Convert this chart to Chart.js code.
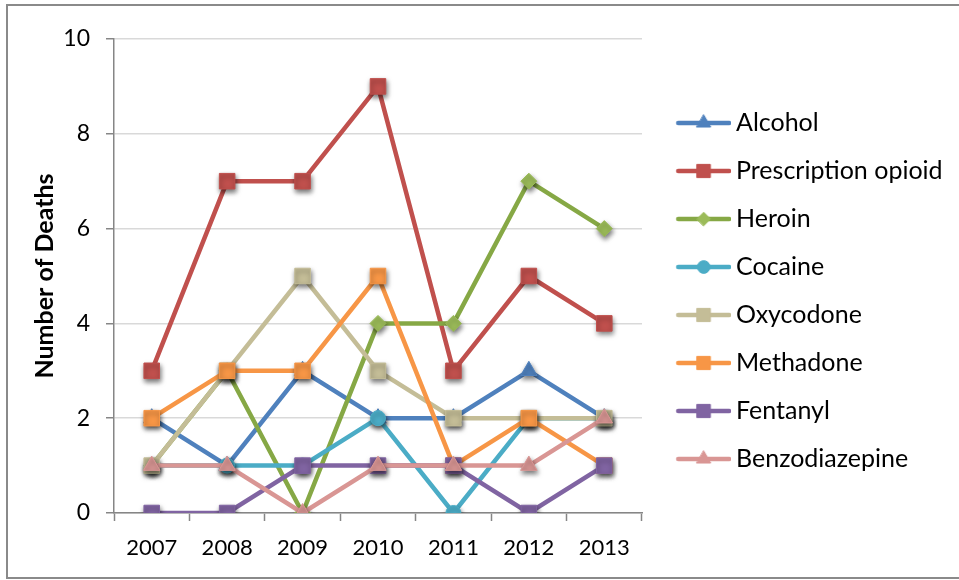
<!DOCTYPE html>
<html>
<head>
<meta charset="utf-8">
<script src="https://cdn.jsdelivr.net/npm/chart.js@4.4.1/dist/chart.umd.min.js"></script>
<style>
  html, body { margin: 0; padding: 0; background: #fff; overflow: hidden; }
  #frame { position: absolute; left: 6px; top: 4px; width: 1000px; height: 571px; border: 2px solid #8a8a8a; }
  #chart { position: absolute; left: 0; top: 0; }
</style>
</head>
<body>
<div id="frame"></div>
<canvas id="chart" width="959" height="580"></canvas>
<script>
// ---------- DATA ----------
const years = ['2007', '2008', '2009', '2010', '2011', '2012', '2013'];
const seriesNames = ['Alcohol', 'Prescription opioid', 'Heroin', 'Cocaine',
  'Oxycodone', 'Methadone', 'Fentanyl', 'Benzodiazepine'];

const alcohol        = [2, 1, 3, 2, 2, 3, 2];
const rxOpioid       = [3, 7, 7, 9, 3, 5, 4];
const heroin         = [1, 3, 0, 4, 4, 7, 6];
const cocaine        = [1, 1, 1, 2, 0, 2, 2];
const oxycodone      = [1, 3, 5, 3, 2, 2, 2];
const methadone      = [2, 3, 3, 5, 1, 2, 1];
const fentanyl       = [0, 0, 1, 1, 1, 0, 1];
const benzodiazepine = [1, 1, 0, 1, 1, 1, 2];

const yTicks = [0, 2, 4, 6, 8, 10];

// ---------- STYLE ----------
const lineColors   = ['#4f81bd', '#c0504d', '#86a845', '#4bacc6', '#c4bd97', '#f79646', '#8064a2', '#d99694'];
const markerColors = ['#4f81bd', '#c0504d', '#9bbb59', '#4bacc6', '#c4bd97', '#f79646', '#8064a2', '#d99694'];
const markerStyles = ['triangle', 'rect', 'rectRot', 'circle', 'rect', 'rect', 'rect', 'triangle'];
const markerSizes  = [9.5, 11, 8, 7.5, 11, 11, 11, 9.5];

const FONT = 'Lato';
const W = 959, H = 580;
const AREA_LEFT = 114, AREA_RIGHT = 642, AREA_TOP = 39, AREA_BOTTOM = 513;
const PAD_LEFT = 8, PAD_BOTTOM = 10;
const LEGEND_FONT = 25, LEGEND_PAD = 23, LEGEND_BOX = 58.5;
const SWATCH_W = 74, SWATCH_H = 24, SWATCH_LINE = 19;

// shadow under the markers only (lines stay flat)
const drawPointBase = Chart.PointElement.prototype.draw;
Chart.PointElement.prototype.draw = function (ctx, area) {
  ctx.save();
  ctx.shadowColor = 'rgba(0,0,0,0.55)';
  ctx.shadowBlur = 5;
  ctx.shadowOffsetX = 1;
  ctx.shadowOffsetY = 3;
  drawPointBase.call(this, ctx, area);
  ctx.restore();
};

// small line+marker swatch for the legend
function legendSymbol(i) {
  const c = document.createElement('canvas');
  c.width = SWATCH_W; c.height = SWATCH_H;
  const g = c.getContext('2d');
  const mid = SWATCH_H / 2;
  g.strokeStyle = lineColors[i];
  g.lineWidth = 4.5;
  g.lineCap = 'round';
  g.beginPath(); g.moveTo(SWATCH_LINE + 2, mid); g.lineTo(SWATCH_W - 2, mid); g.stroke();
  g.fillStyle = markerColors[i];
  g.strokeStyle = markerColors[i];
  g.lineWidth = 1;
  const cx = (SWATCH_LINE + SWATCH_W) / 2;
  Chart.helpers.drawPoint(g, { pointStyle: markerStyles[i], radius: markerSizes[i] * 0.85, rotation: 0, borderWidth: 1 }, cx, mid);
  return c;
}
const symbols = seriesNames.map((_, i) => legendSymbol(i));

// right padding so the plot ends where the legend starts
// (chart.js adds 10px to a vertical legend's width)
const measure = document.createElement('canvas').getContext('2d');
measure.font = LEGEND_FONT + 'px ' + FONT;
const widestLabel = Math.max(...seriesNames.map(n => measure.measureText(n).width));
const legendWidth = LEGEND_PAD + LEGEND_BOX + LEGEND_FONT / 2 + widestLabel + 10;
const padRight = Math.max(0, W - AREA_RIGHT - legendWidth);

const values = [alcohol, rxOpioid, heroin, cocaine, oxycodone, methadone, fentanyl, benzodiazepine];
const datasets = seriesNames.map((name, i) => ({
  label: name,
  data: values[i],
  borderColor: lineColors[i],
  backgroundColor: markerColors[i],
  borderWidth: 4.5,
  borderJoinStyle: 'round',
  borderCapStyle: 'round',
  tension: 0,
  pointStyle: markerStyles[i],
  pointRadius: markerSizes[i],
  pointBorderWidth: 1,
  pointBorderColor: markerColors[i],
  pointBackgroundColor: markerColors[i],
  order: seriesNames.length - i   // later series drawn on top
}));

new Chart(document.getElementById('chart'), {
  type: 'line',
  data: { labels: years, datasets: datasets },
  options: {
    responsive: false,
    animation: false,
    layout: { padding: { left: PAD_LEFT, top: AREA_TOP, right: padRight, bottom: PAD_BOTTOM } },
    plugins: {
      tooltip: { enabled: false },
      legend: {
        position: 'right',
        align: 'center',
        fullSize: false,
        maxWidth: 400,
        title: { display: true, text: ' ', font: { size: 10 }, padding: 9 },
        labels: {
          font: { family: FONT, size: LEGEND_FONT },
          color: '#000',
          padding: LEGEND_PAD,
          usePointStyle: true,
          pointStyleWidth: LEGEND_BOX,
          sort: (a, b) => a.datasetIndex - b.datasetIndex,
          generateLabels(chart) {
            return Chart.defaults.plugins.legend.labels.generateLabels(chart).map(item => {
              item.pointStyle = symbols[item.datasetIndex];
              return item;
            });
          }
        }
      }
    },
    scales: {
      x: {
        offset: true,
        grid: { offset: true, drawOnChartArea: false, tickLength: 8, tickColor: '#868686', tickWidth: 1.5 },
        border: { color: '#868686', width: 1.5 },
        ticks: { font: { family: FONT, size: 22 }, color: '#000', padding: 14 },
        afterFit(scale) { scale.height = H - PAD_BOTTOM - AREA_BOTTOM; }
      },
      y: {
        min: 0,
        max: 10,
        afterBuildTicks(scale) { scale.ticks = yTicks.map(v => ({ value: v })); },
        grid: { color: '#d9d9d9', lineWidth: 1.5, tickLength: 8, tickColor: '#868686', tickWidth: 1.5 },
        border: { color: '#868686', width: 1.5 },
        ticks: { font: { family: FONT, size: 23 }, color: '#000', padding: 16 },
        title: {
          display: true,
          text: 'Number of Deaths',
          font: { family: FONT, size: 25, weight: 'bold' },
          color: '#000',
          padding: { top: 22, bottom: 0 }
        },
        afterFit(scale) { scale.width = AREA_LEFT - PAD_LEFT; }
      }
    }
  }
});
</script>
</body>
</html>
